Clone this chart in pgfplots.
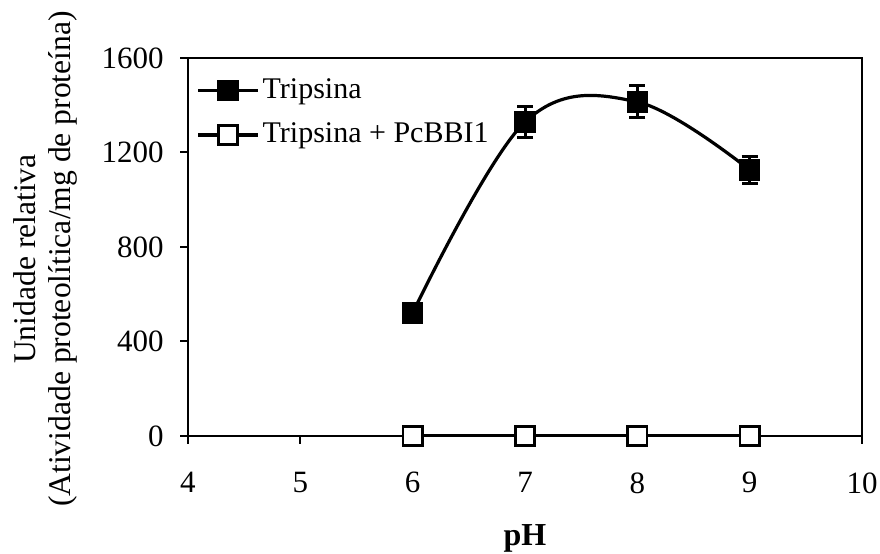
\documentclass[border=0pt]{standalone}
\usepackage{fontspec}
\setmainfont{Liberation Serif}
\usepackage{pgfplots}
\pgfplotsset{compat=1.18}
\begin{document}
\fontsize{15}{17}\selectfont
\begin{tikzpicture}
\begin{axis}[
  name=ax,
  scale only axis, width=337pt, height=189pt,
  xmin=4, xmax=10, ymin=0, ymax=1600,
  xtick={4,5,6,7,8,9,10}, ytick={0,400,800,1200,1600},
  tick align=outside, xtick pos=bottom, ytick pos=left,
  major tick length=4pt,
  axis line style={line width=1pt},
  every tick/.style={black, line width=1pt},
  /pgf/number format/assume math mode=true,
  /pgf/number format/1000 sep={},
  tick label style={font=\fontsize{15.5}{17}\selectfont},
  yticklabel style={inner sep=1pt, xshift=-7pt},
  xticklabel style={inner sep=0pt, yshift=-14pt},
  xlabel={\textbf{pH}},
  xlabel style={at={(axis description cs:0.5,-0.27)}, anchor=center, font=\fontsize{16}{17}\selectfont},
  ylabel={Unidade relativa\\(Atividade proteolítica/mg de proteína)},
  ylabel style={at={(axis description cs:-0.163,0.468)}, anchor=south, align=center, inner sep=0pt, font=\fontsize{15.8}{17.5}\selectfont},
  legend style={at={(axis description cs:0.012,0.955)}, anchor=north west, draw=none, fill=none,
    font=\fontsize{15}{17}\selectfont, row sep=7pt, inner sep=0pt,
    nodes={inner sep=1.5pt}},
  legend cell align=left,
  legend image code/.code={\draw[mark repeat=2,mark phase=2,#1] plot coordinates {(0pt,0pt) (15pt,0pt) (30pt,0pt)};},
]
\addplot[black, line width=1.6pt, smooth, tension=0.6, mark=square*, mark size=5pt,
  mark options={solid, fill=black, line width=0.8pt},
  error bars/.cd, y dir=both, y explicit,
  error mark options={rotate=90, mark size=4pt, line width=1.5pt},
  error bar style={line width=1.5pt}]
  coordinates {(6,521) +- (0,0) (7,1329) +- (0,65) (8,1414) +- (0,68) (9,1126) +- (0,57)};
\addlegendentry{Tripsina}
\addplot[black, line width=1.6pt, mark=square*, mark size=4.8pt,
  mark options={solid, fill=white, line width=1.3pt}]
  coordinates {(6,0) (7,0) (8,0) (9,0)};
\addlegendentry{Tripsina + PcBBI1}
\end{axis}
\pgfresetboundingbox
\path[use as bounding box] ([shift={(-94pt,-59pt)}]ax.south west) rectangle ([shift={(9pt,29pt)}]ax.north east);
\end{tikzpicture}
\end{document}
